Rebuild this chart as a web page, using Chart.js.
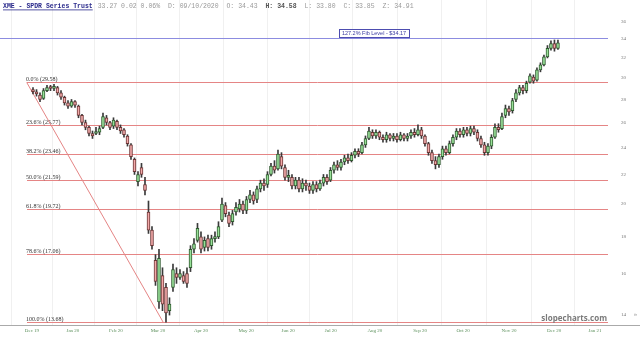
<!DOCTYPE html>
<html>
<head>
<meta charset="utf-8">
<script src="https://cdn.jsdelivr.net/npm/chart.js@4.4.1/dist/chart.umd.min.js"></script>
<style>
  html, body { margin: 0; padding: 0; background: #fff; }
  #wrap { width: 640px; height: 338px; position: relative; }
</style>
</head>
<body>
<div id="wrap"><canvas id="chart" width="640" height="338"></canvas></div>
<script>
// daily candles, Dec 2019 .. Dec 2020
const opens = [
  28.9, 28.7, 28.4, 28.1, 28.8, 29.1, 29.0, 29.1, 28.6, 28.2,
  27.7, 27.4, 27.8, 27.4, 26.6, 26.0, 25.6, 25.1, 25.1, 25.2,
  25.6, 26.4, 26.0, 25.7, 26.1, 25.6, 25.4, 24.9, 24.2, 23.1,
  21.5, 22.5, 21.3, 19.5, 18.4, 16.7, 14.6, 15.9, 15.3, 14.2,
  15.3, 16.0, 15.8, 15.9, 16.0, 16.3, 17.3, 17.8, 18.0, 17.4,
  17.9, 17.5, 17.9, 18.0, 19.0, 19.9, 19.3, 18.9, 19.5, 19.7,
  20.0, 19.6, 20.3, 20.6, 20.3, 21.0, 21.4, 21.3, 22.0, 22.6,
  22.4, 23.3, 22.5, 21.8, 21.8, 21.2, 21.6, 21.0, 21.4, 21.2,
  20.9, 21.3, 21.0, 21.4, 21.8, 21.6, 22.3, 22.7, 22.5, 22.9,
  23.2, 23.0, 23.4, 23.7, 23.6, 24.2, 24.7, 25.2, 24.9, 25.2,
  24.8, 24.6, 25.0, 24.7, 24.9, 24.6, 25.0, 24.7, 24.9, 25.2,
  25.0, 25.4, 24.9, 24.3, 23.6, 23.0, 22.7, 23.3, 23.9, 23.6,
  24.3, 24.8, 25.3, 25.0, 25.4, 25.1, 25.5, 25.2, 24.7, 24.2,
  23.6, 24.1, 24.8, 25.6, 25.5, 26.6, 27.2, 27.0, 28.0, 28.6,
  29.1, 28.8, 29.6, 30.1, 29.8, 30.8, 31.3, 32.1, 33.0, 33.5, 33.0
];
const highs = [
  29.1, 28.9, 28.6, 29.0, 29.3, 29.3, 29.4, 29.2, 28.8, 28.3,
  27.9, 28.0, 27.9, 27.5, 26.7, 26.2, 25.7, 25.3, 25.6, 25.7,
  26.8, 26.6, 26.1, 26.4, 26.2, 25.8, 25.5, 25.0, 24.3, 23.2,
  22.2, 22.8, 21.8, 20.2, 18.6, 17.0, 17.3, 16.3, 15.5, 14.8,
  16.5, 16.3, 16.2, 16.1, 16.3, 17.5, 17.9, 18.8, 18.3, 18.0,
  18.1, 18.1, 18.3, 18.9, 20.4, 20.1, 19.5, 19.6, 20.1, 20.3,
  20.2, 20.5, 20.9, 20.8, 21.2, 21.6, 21.7, 22.2, 22.8, 23.0,
  23.8, 23.6, 22.7, 22.3, 22.0, 21.8, 21.8, 21.7, 21.6, 21.4,
  21.5, 21.5, 21.6, 22.0, 22.0, 22.5, 22.9, 23.0, 23.1, 23.4,
  23.5, 23.6, 23.9, 23.9, 24.4, 24.9, 25.6, 25.4, 25.4, 25.3,
  25.0, 25.2, 25.1, 25.1, 25.1, 25.2, 25.1, 25.1, 25.4, 25.5,
  25.8, 25.6, 25.0, 24.4, 23.8, 23.3, 23.5, 24.1, 24.1, 24.5,
  25.0, 25.5, 25.5, 25.6, 25.6, 25.7, 25.7, 25.4, 24.9, 24.4,
  24.3, 25.0, 25.9, 25.9, 26.8, 27.5, 27.4, 28.1, 28.9, 29.3,
  29.3, 29.7, 30.4, 30.3, 31.0, 31.5, 32.3, 33.3, 33.8, 33.9, 33.9
];
const lows = [
  28.5, 28.3, 27.8, 28.0, 28.7, 28.8, 28.8, 28.4, 28.0, 27.5,
  27.2, 27.3, 27.3, 26.4, 25.8, 25.4, 24.9, 24.7, 25.0, 25.0,
  25.5, 25.8, 25.4, 25.5, 25.4, 25.1, 24.8, 24.1, 23.1, 22.0,
  21.2, 21.8, 20.6, 18.2, 17.3, 15.4, 14.3, 14.2, 13.68, 14.0,
  15.1, 15.5, 15.7, 15.5, 15.3, 16.1, 17.1, 17.7, 17.1, 17.2,
  17.2, 17.3, 17.7, 17.9, 18.9, 19.2, 18.6, 18.7, 19.3, 19.5,
  19.4, 19.4, 20.1, 20.0, 20.1, 20.8, 20.9, 21.1, 21.9, 22.1,
  22.3, 22.4, 21.6, 21.5, 21.0, 21.0, 20.8, 20.8, 20.9, 20.7,
  20.7, 20.8, 20.9, 21.2, 21.3, 21.5, 22.1, 22.3, 22.3, 22.7,
  22.8, 22.9, 23.2, 23.3, 23.5, 24.0, 24.6, 24.7, 24.7, 24.6,
  24.4, 24.4, 24.5, 24.5, 24.4, 24.5, 24.5, 24.5, 24.7, 24.8,
  24.9, 24.7, 24.1, 23.4, 22.8, 22.4, 22.5, 23.1, 23.4, 23.5,
  24.1, 24.6, 24.8, 24.8, 24.9, 24.9, 25.0, 24.5, 24.0, 23.4,
  23.4, 23.9, 24.7, 25.2, 25.4, 26.4, 26.6, 26.8, 27.8, 28.4,
  28.5, 28.6, 29.5, 29.5, 29.7, 30.6, 31.2, 32.0, 32.8, 32.7, 32.9
];
const closes = [
  28.7, 28.5, 28.0, 28.8, 29.1, 29.0, 29.2, 28.6, 28.2, 27.7,
  27.4, 27.8, 27.5, 26.6, 26.0, 25.6, 25.1, 24.9, 25.2, 25.5,
  26.5, 26.0, 25.6, 26.2, 25.6, 25.3, 25.0, 24.3, 23.3, 22.2,
  22.0, 22.0, 20.9, 18.4, 17.5, 15.6, 16.8, 14.5, 14.1, 14.5,
  16.2, 15.8, 16.0, 15.6, 15.5, 17.3, 17.6, 18.5, 17.3, 17.8,
  17.4, 17.9, 18.0, 18.6, 20.0, 19.4, 18.8, 19.4, 19.8, 20.0,
  19.6, 20.3, 20.6, 20.2, 21.0, 21.4, 21.2, 22.0, 22.6, 22.3,
  23.5, 22.6, 21.8, 21.9, 21.2, 21.6, 21.0, 21.4, 21.2, 20.9,
  21.3, 21.0, 21.4, 21.8, 21.5, 22.3, 22.7, 22.5, 22.9, 23.2,
  23.0, 23.4, 23.7, 23.5, 24.2, 24.7, 25.3, 24.9, 25.2, 24.8,
  24.6, 25.0, 24.7, 24.9, 24.6, 25.0, 24.7, 24.9, 25.2, 25.0,
  25.4, 24.9, 24.3, 23.6, 23.0, 22.7, 23.3, 23.9, 23.6, 24.3,
  24.8, 25.3, 25.0, 25.4, 25.1, 25.5, 25.2, 24.7, 24.2, 23.6,
  24.1, 24.8, 25.6, 25.4, 26.5, 27.2, 26.9, 27.9, 28.6, 29.1,
  28.8, 29.5, 30.2, 29.7, 30.8, 31.3, 32.1, 33.0, 33.5, 33.0, 33.6
];

// x axis month labels and where they sit (in candle units)
const monthLabels = ["Dec 19", "Jan 20", "Feb 20", "Mar 20", "Apr 20", "May 20", "Jun 20",
                     "Jul 20", "Aug 20", "Sep 20", "Oct 20", "Nov 20", "Dec 20", "Jan 21"];
const monthPos = [-0.3, 11.4, 23.7, 35.7, 48.0, 60.9, 72.9, 85.1, 97.7, 110.6, 122.9, 136.0, 148.9, 160.6];
const priceTicks = [14, 16, 18, 20, 22, 24, 26, 28, 30, 32, 34, 36];

// fibonacci retracement
const fibNames = ["0.0%", "23.6%", "38.2%", "50.0%", "61.8%", "78.6%", "100.0%"];
const fibValues = [29.58, 25.77, 23.46, 21.59, 19.72, 17.06, 13.68];
const fibStart = -1.8;   // candle position of the high anchor
const fibEnd = 37.2;     // candle position of the low anchor
const extValue = 34.17;
const extText = "127.2% Fib Level - $34.17";

const title = "XME - SPDR Series Trust";
const quote = "33.27 0.02 0.06%  D: 09/10/2020  O: 34.43  ";
const quoteHi = "H: 34.58";
const quoteRest = "  L: 33.80  C: 33.85  Z: 34.91";

const idx = closes.map((c, i) => i);
const upFill = "#98e098", upLine = "#2f5a2f";
const dnFill = "#f2a9a9", dnLine = "#6a3434";

const bodyColors = closes.map((c, i) => c >= opens[i] ? upFill : dnFill);
const bodyBorders = closes.map((c, i) => c >= opens[i] ? upLine : dnLine);

const fibPlugin = {
  id: "fib",
  beforeDraw(chart) {
    const ctx = chart.ctx;
    ctx.save();
    ctx.fillStyle = "#fff";
    ctx.fillRect(0, 0, chart.width, chart.height);
    ctx.restore();
  },
  beforeDatasetsDraw(chart) {
    const ctx = chart.ctx;
    const x = chart.scales.x, y = chart.scales.y;
    const area = chart.chartArea;
    ctx.save();
    const x0 = Math.round(x.getPixelForValue(fibStart));
    ctx.lineWidth = 1;
    fibValues.forEach((v, i) => {
      const py = Math.round(y.getPixelForValue(v)) + 0.5;
      ctx.strokeStyle = "#e58585";
      ctx.beginPath();
      ctx.moveTo(x0, py);
      ctx.lineTo(area.right, py);
      ctx.stroke();
      ctx.fillStyle = "#333";
      ctx.font = "6px 'Liberation Serif', serif";
      ctx.textBaseline = "alphabetic";
      ctx.fillText(fibNames[i] + " (" + v.toFixed(2) + ")", x0 - 1, py - 2);
    });
    // diagonal from high anchor to low anchor
    ctx.strokeStyle = "#e58585";
    ctx.beginPath();
    ctx.moveTo(x.getPixelForValue(fibStart), y.getPixelForValue(fibValues[0]));
    ctx.lineTo(x.getPixelForValue(fibEnd), y.getPixelForValue(fibValues[fibValues.length - 1]));
    ctx.stroke();
    // extension line
    const ey = Math.round(y.getPixelForValue(extValue)) + 0.5;
    ctx.strokeStyle = "#8c8ce0";
    ctx.beginPath();
    ctx.moveTo(area.left, ey);
    ctx.lineTo(area.right, ey);
    ctx.stroke();
    ctx.font = "5.5px 'Liberation Sans', sans-serif";
    const tw = ctx.measureText(extText).width;
    const cx = 374;
    ctx.fillStyle = "#fff";
    ctx.fillRect(cx - tw / 2 - 3, ey - 9, tw + 6, 8);
    ctx.strokeStyle = "#4d4db0";
    ctx.strokeRect(Math.round(cx - tw / 2 - 3) + 0.5, ey - 9, Math.round(tw + 6), 8);
    ctx.fillStyle = "#3a3aa0";
    ctx.textAlign = "center";
    ctx.textBaseline = "middle";
    ctx.fillText(extText, cx, ey - 5);
    ctx.restore();
  },
  afterDraw(chart) {
    const ctx = chart.ctx;
    const area = chart.chartArea;
    ctx.save();
    ctx.strokeStyle = "#aaa";
    ctx.lineWidth = 1;
    ctx.beginPath();
    ctx.moveTo(0, area.bottom + 0.5);
    ctx.lineTo(chart.width, area.bottom + 0.5);
    ctx.stroke();
    // header
    ctx.textBaseline = "middle";
    ctx.font = "bold 6.5px 'Liberation Mono', monospace";
    ctx.fillStyle = "#2b2b8c";
    ctx.fillText(title, 3, 6);
    let w = ctx.measureText(title).width;
    ctx.fillRect(3, 9.5, w, 0.8);
    let px = 3 + w + 5;
    ctx.font = "6.5px 'Liberation Mono', monospace";
    ctx.fillStyle = "#999";
    ctx.fillText(quote, px, 6);
    px += ctx.measureText(quote).width;
    ctx.font = "bold 6.5px 'Liberation Mono', monospace";
    ctx.fillStyle = "#555";
    ctx.fillText(quoteHi, px, 6);
    px += ctx.measureText(quoteHi).width;
    ctx.font = "6.5px 'Liberation Mono', monospace";
    ctx.fillStyle = "#999";
    ctx.fillText(quoteRest, px, 6);
    // watermark
    ctx.font = "bold 8px 'Open Sans', sans-serif";
    ctx.fillStyle = "#7a7a7a";
    ctx.textAlign = "right";
    ctx.textBaseline = "alphabetic";
    ctx.fillText("slopecharts.com", 607, 321);
    ctx.font = "6px 'Liberation Sans', sans-serif";
    ctx.fillStyle = "#999";
    ctx.fillText("»", 637, 316);
    ctx.restore();
  }
};

new Chart(document.getElementById("chart"), {
  type: "bar",
  data: {
    datasets: [
      {
        label: "wick",
        data: idx.map(i => ({ x: i, y: [lows[i], highs[i]] })),
        backgroundColor: "#3a3a3a",
        barThickness: 1,
        order: 2
      },
      {
        label: "body",
        data: idx.map(i => ({ x: i, y: [opens[i], closes[i]] })),
        backgroundColor: bodyColors,
        borderColor: bodyBorders,
        borderWidth: 1,
        borderSkipped: false,
        barThickness: 3,
        minBarLength: 2,
        order: 1
      }
    ]
  },
  options: {
    responsive: false,
    animation: false,
    grouped: false,
    layout: { padding: 0 },
    plugins: { legend: { display: false }, tooltip: { enabled: false } },
    scales: {
      x: {
        type: "linear",
        min: -9.43,
        max: 164.3,
        offset: false,
        afterBuildTicks: s => { s.ticks = monthPos.map(v => ({ value: v })); },
        afterFit: s => { s.height = 13; s.paddingLeft = 0; s.paddingRight = 0; },
        grid: { color: "#f0f0f0", drawTicks: false },
        border: { display: false },
        ticks: {
          autoSkip: false,
          maxRotation: 0,
          padding: 3,
          color: "#5a8f5a",
          font: { size: 5, family: "'Liberation Serif', serif" },
          callback: (v, i) => monthLabels[i]
        }
      },
      y: {
        type: "logarithmic",
        position: "right",
        min: 13.56,
        max: 38.55,
        afterBuildTicks: s => { s.ticks = priceTicks.map(v => ({ value: v })); },
        afterFit: s => { s.width = 32; s.paddingTop = 0; s.paddingBottom = 0; },
        grid: { display: false },
        border: { display: false },
        ticks: {
          padding: 5,
          color: "#777",
          font: { size: 5, family: "'Liberation Serif', serif" },
          callback: v => String(v)
        }
      }
    }
  },
  plugins: [fibPlugin]
});
</script>
</body>
</html>
